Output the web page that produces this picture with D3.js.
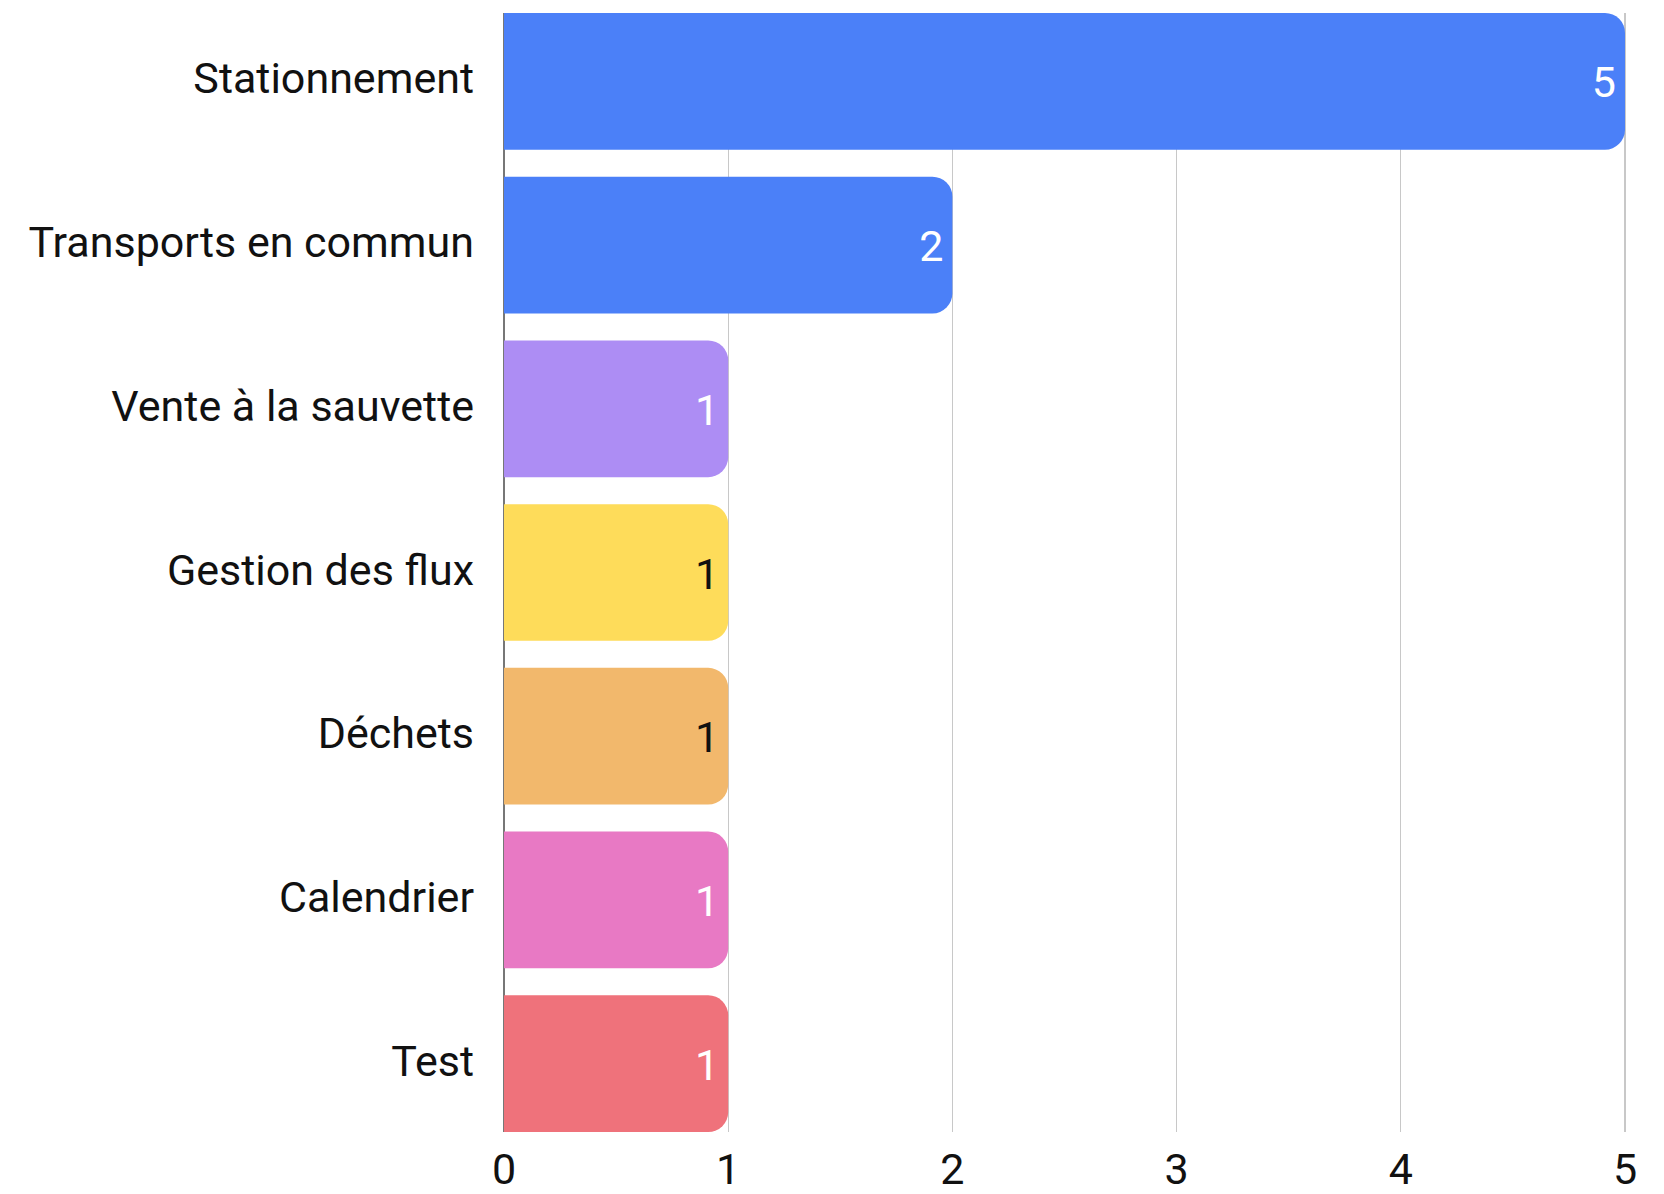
<!DOCTYPE html>
<html lang="fr">
<head>
<meta charset="utf-8">
<title>Catégories</title>
<script src="https://cdn.jsdelivr.net/npm/d3@7"></script>
<style>
  body { margin: 0; background: #fff; }
  text { font-family: Roboto, "Noto Sans", sans-serif; }
  .grid line { stroke: #c8c8c8; stroke-width: 1.2; shape-rendering: crispEdges; }
  .label { font-size: 43px; fill: #111; }
  .tick-label { font-size: 43px; fill: #111; }
  .value { font-size: 43px; }
</style>
</head>
<body>
<script>
  // data
  var categories = ["Stationnement", "Transports en commun", "Vente à la sauvette", "Gestion des flux", "Déchets", "Calendrier", "Test"];
  var values = [5, 2, 1, 1, 1, 1, 1];
  var colors = ["#4b80f8", "#4b80f8", "#ad8df4", "#fedc5a", "#f2b86c", "#e879c4", "#ef727b"];
  var valueColors = ["#fff", "#fff", "#fff", "#111", "#111", "#fff", "#fff"];
  var ticks = [0, 1, 2, 3, 4, 5];

  var w = 1664, h = 1194;
  var plotLeft = 504, plotRight = 1625, plotTop = 13, plotBottom = 1132;
  var radius = 20;

  var svg = d3.select("body").append("svg").attr("width", w).attr("height", h);

  var x = d3.scaleLinear().domain([0, 5]).range([plotLeft, plotRight]);
  var y = d3.scaleBand().domain(categories).range([plotTop, plotBottom]).paddingInner(0.165).paddingOuter(0);

  // vertical grid lines
  svg.append("g").attr("class", "grid")
    .selectAll("line")
    .data(ticks.slice(1))
    .enter().append("line")
    .attr("x1", d => x(d)).attr("x2", d => x(d))
    .attr("y1", plotTop).attr("y2", plotBottom);

  // zero axis line
  svg.append("line")
    .attr("x1", x(0)).attr("x2", x(0))
    .attr("y1", plotTop).attr("y2", plotBottom)
    .attr("stroke", "#777").attr("stroke-width", 1.2)
    .style("shape-rendering", "crispEdges");

  // bar with rounded right corners
  function barPath(x0, x1, y0, bh, r) {
    r = Math.min(r, (x1 - x0), bh / 2);
    return "M" + x0 + "," + y0 +
      "H" + (x1 - r) +
      "A" + r + "," + r + " 0 0 1 " + x1 + "," + (y0 + r) +
      "V" + (y0 + bh - r) +
      "A" + r + "," + r + " 0 0 1 " + (x1 - r) + "," + (y0 + bh) +
      "H" + x0 + "Z";
  }

  var rows = categories.map((c, i) => ({ cat: c, val: values[i], color: colors[i], tc: valueColors[i] }));

  svg.append("g").selectAll("path")
    .data(rows)
    .enter().append("path")
    .attr("d", d => barPath(x(0), x(d.val), y(d.cat), y.bandwidth(), radius))
    .attr("fill", d => d.color);

  // value labels inside the bars
  svg.append("g").selectAll("text")
    .data(rows)
    .enter().append("text")
    .attr("class", "value")
    .attr("x", d => x(d.val) - 9)
    .attr("y", d => y(d.cat) + y.bandwidth() / 2 + 16)
    .attr("text-anchor", "end")
    .attr("fill", d => d.tc)
    .text(d => d.val);

  // category labels
  svg.append("g").selectAll("text")
    .data(rows)
    .enter().append("text")
    .attr("class", "label")
    .attr("x", plotLeft - 30)
    .attr("y", d => y(d.cat) + y.bandwidth() / 2 + 12)
    .attr("text-anchor", "end")
    .text(d => d.cat);

  // x tick labels
  svg.append("g").selectAll("text")
    .data(ticks)
    .enter().append("text")
    .attr("class", "tick-label")
    .attr("x", d => x(d))
    .attr("y", 1184)
    .attr("text-anchor", "middle")
    .text(d => d);
</script>
</body>
</html>
